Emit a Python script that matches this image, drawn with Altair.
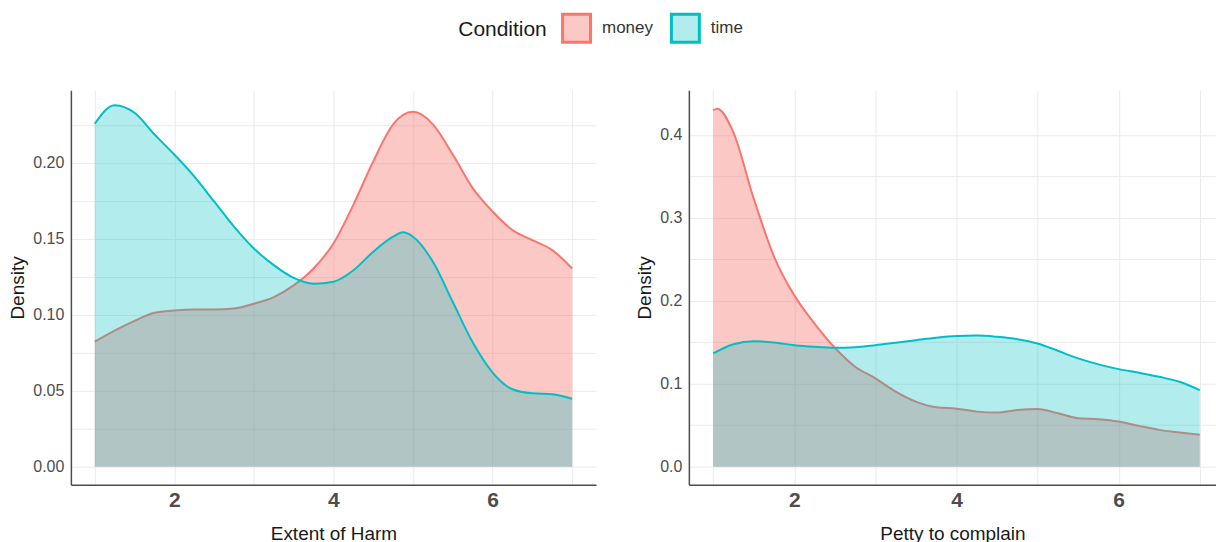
import altair as alt
import pandas as pd

conditions = ["money", "time"]
money_color = "#F8766D"
time_color = "#00BFC4"

# Panel 1: Extent of Harm
harm_money_x = [1, 1.25, 1.5, 1.75, 2, 2.25, 2.5, 2.75, 3, 3.25, 3.5, 3.75, 4, 4.25, 4.5, 4.75, 5, 5.25, 5.5, 5.75, 6, 6.25, 6.5, 6.75, 7]
harm_money_y = [0.0823, 0.0896, 0.0960, 0.1013, 0.1029, 0.1035, 0.1035, 0.1042, 0.1073, 0.1117, 0.1194, 0.1305, 0.1470, 0.1724, 0.2010, 0.2254, 0.2336, 0.2254, 0.2055, 0.1834, 0.1680, 0.1558, 0.1492, 0.1426, 0.1305]
harm_time_x = [1, 1.25, 1.5, 1.75, 2, 2.25, 2.5, 2.75, 3, 3.25, 3.5, 3.75, 4, 4.25, 4.5, 4.75, 4.875, 5, 5.25, 5.5, 5.75, 6, 6.25, 6.5, 6.75, 7]
harm_time_y = [0.2258, 0.2380, 0.2330, 0.2188, 0.2055, 0.1911, 0.1746, 0.1581, 0.1437, 0.1327, 0.1243, 0.1205, 0.1218, 0.1293, 0.1415, 0.1514, 0.1543, 0.1514, 0.1349, 0.1084, 0.0819, 0.0620, 0.0510, 0.0483, 0.0477, 0.0448]

# Panel 2: Petty to complain
petty_money_x = [1, 1.05, 1.25, 1.5, 1.75, 2, 2.25, 2.5, 2.75, 3, 3.25, 3.5, 3.75, 4, 4.25, 4.5, 4.75, 5, 5.25, 5.5, 5.75, 6, 6.25, 6.5, 6.75, 7]
petty_money_y = [0.4298, 0.4315, 0.4026, 0.3230, 0.2533, 0.2065, 0.1725, 0.1433, 0.1205, 0.1065, 0.0905, 0.0784, 0.0716, 0.0700, 0.0664, 0.0652, 0.0684, 0.0696, 0.0644, 0.0584, 0.0572, 0.0544, 0.0492, 0.0444, 0.0412, 0.0384]
petty_time_x = [1, 1.25, 1.5, 1.75, 2, 2.25, 2.5, 2.75, 3, 3.25, 3.5, 3.75, 4, 4.25, 4.5, 4.75, 5, 5.25, 5.5, 5.75, 6, 6.25, 6.5, 6.75, 7]
petty_time_y = [0.1365, 0.1476, 0.1513, 0.1497, 0.1465, 0.1445, 0.1433, 0.1440, 0.1465, 0.1495, 0.1525, 0.1555, 0.1575, 0.1580, 0.1565, 0.1537, 0.1485, 0.1397, 0.1305, 0.1233, 0.1176, 0.1132, 0.1084, 0.1024, 0.0924]

x_ticks = [1, 2, 3, 4, 5, 6, 7]
harm_y_grid = [0, 0.025, 0.05, 0.075, 0.1, 0.125, 0.15, 0.175, 0.2, 0.225]
petty_y_grid = [0, 0.05, 0.1, 0.15, 0.2, 0.25, 0.3, 0.35, 0.4]

FONT = "Liberation Sans"


def make_df(mx, my, tx, ty):
    rows = [{"x": a, "y": b, "Condition": "money"} for a, b in zip(mx, my)]
    rows += [{"x": a, "y": b, "Condition": "time"} for a, b in zip(tx, ty)]
    return pd.DataFrame(rows)


def panel(df, xtitle, xdomain, ydomain, ygrid, label_expr, width, with_legend):
    xenc = alt.X("x:Q", scale=alt.Scale(domain=xdomain, nice=False, zero=False),
                 axis=alt.Axis(values=x_ticks, title=xtitle,
                               labelExpr="datum.value % 2 == 0 ? datum.label : ''",
                               labelFontSize=21, labelFontWeight="bold", labelColor="#4d4d4d",
                               labelPadding=5, titlePadding=14, ticks=False))
    yenc = alt.Y("y:Q", scale=alt.Scale(domain=ydomain, nice=False, zero=False),
                 axis=alt.Axis(values=ygrid, title="Density", labelExpr=label_expr,
                               labelFontSize=16, labelColor="#4d4d4d", labelPadding=7,
                               titlePadding=5, ticks=False))
    base = alt.Chart(df)
    layers = []
    for cond, col, op in [("money", money_color, 0.4), ("time", time_color, 0.3)]:
        sub = base.transform_filter(alt.datum.Condition == cond)
        layers.append(sub.mark_area(interpolate="monotone", fill=col, fillOpacity=op).encode(x=xenc, y=yenc))
        layers.append(sub.mark_line(interpolate="monotone", stroke=col, strokeWidth=2).encode(x=xenc, y=yenc))
    if with_legend:
        leg = alt.Legend(orient="none", legendX=388, legendY=-78, direction="horizontal",
                         titleOrient="left", title="Condition", titleFontSize=21,
                         titleFontWeight="normal", titleColor="#1a1a1a", labelFontSize=17,
                         labelColor="#333333", symbolType="M-1,-1L1,-1L1,1L-1,1Z", symbolSize=784,
                         symbolStrokeWidth=3, titlePadding=14, labelOffset=10, columnPadding=11,
                         titleBaseline="middle", titleAnchor="middle")
        legend_layer = base.transform_filter("false").mark_square(size=900, strokeWidth=3, opacity=1).encode(
            x=xenc, y=yenc,
            fill=alt.Fill("Condition:N", scale=alt.Scale(domain=conditions, range=["#FCC8C5", "#B3ECED"]), legend=leg),
            stroke=alt.Stroke("Condition:N", scale=alt.Scale(domain=conditions, range=[money_color, time_color]), legend=leg),
        )
        layers.append(legend_layer)
    return alt.layer(*layers).properties(width=width, height=395)


left = panel(make_df(harm_money_x, harm_money_y, harm_time_x, harm_time_y), "Extent of Harm",
             [0.7, 7.3], [-0.0118, 0.2478], harm_y_grid,
             "abs(datum.value*20 - round(datum.value*20)) < 1e-6 ? format(datum.value, '.2f') : ''",
             526, True)
right = panel(make_df(petty_money_x, petty_money_y, petty_time_x, petty_time_y), "Petty to complain",
              [0.7, 7.2], [-0.0216, 0.4536], petty_y_grid,
              "abs(datum.value*10 - round(datum.value*10)) < 1e-6 ? format(datum.value, '.1f') : ''",
              528, False)

chart = alt.hconcat(left, right, spacing=39).properties(
    padding={"left": 8, "top": 12, "right": 0, "bottom": 0}
).configure_view(stroke=None).configure_axis(
    labelFont=FONT, titleFont=FONT, titleFontSize=19, titleFontWeight="normal", titleColor="#1a1a1a",
    grid=True, gridColor="#ebebeb", gridWidth=1, domainColor="#4d4d4d", domainWidth=1.5
).configure_legend(labelFont=FONT, titleFont=FONT)

chart.save("out.html", embed_options={"renderer": "svg", "actions": False})
